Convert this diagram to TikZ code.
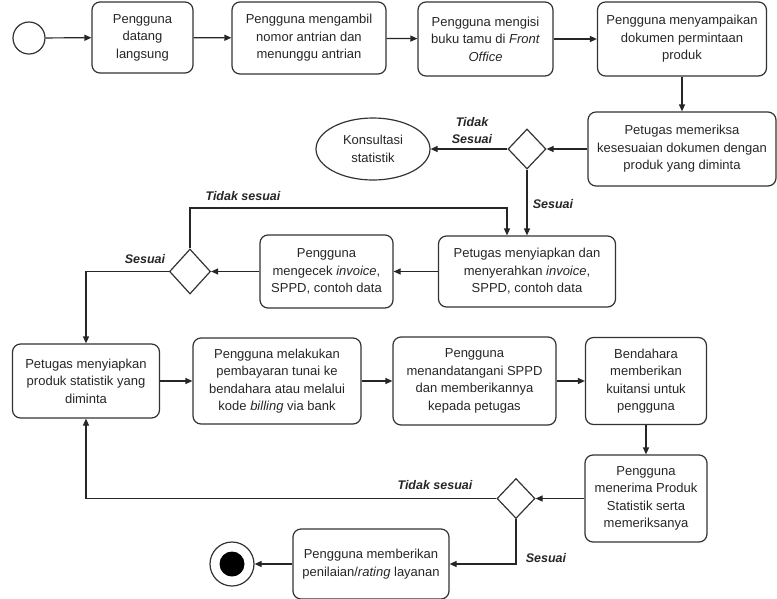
\documentclass[tikz,border=0pt]{standalone}
\usepackage{fontspec}
\setmainfont{Liberation Sans}
\usetikzlibrary{shapes.geometric,arrows.meta}

\begin{document}
\begin{tikzpicture}[x=1pt, y=-1pt,
		>={Triangle[length=7pt,width=6pt]},
		act/.style={draw=black!80, line width=1.2pt, rounded corners=8pt, align=center, inner sep=2pt, text=black!85, font=\fontsize{13}{17.5}\selectfont},
		cek/.style={draw=black!80, line width=1.2pt, diamond, inner sep=0pt, minimum width=38pt, minimum height=40pt},
		flow/.style={->, draw=black!85, line width=1.2pt},
		lbl/.style={align=center, text=black!85, font=\fontsize{12.5}{17}\selectfont\bfseries\itshape}]
		
		\useasboundingbox (0, 0) rectangle (777, 598);
		
		% start and first row
		\node[draw=black!80, line width=1.2pt, circle, minimum size=32pt] (mulai) at (29, 38) {};
		\node[act, minimum width=101pt, minimum height=71pt] (datang) at (142.5, 37.5) {Pengguna\\datang\\langsung};
		\node[act, minimum width=154pt, minimum height=72pt] (antri) at (309, 38) {Pengguna mengambil\\nomor antrian dan\\menunggu antrian};
		\node[act, minimum width=135pt, minimum height=74pt] (tamu) at (485.5, 39) {Pengguna mengisi\\buku tamu di \textit{Front}\\\textit{Office}};
		\node[act, minimum width=169pt, minimum height=74pt] (dokumen) at (682, 39) {Pengguna menyampaikan\\dokumen permintaan\\produk};
		\draw[flow] (mulai) -- (datang);
		\draw[flow] (datang) -- (antri);
		\draw[flow] (antri) -- (tamu);
		\draw[flow] (tamu) -- (dokumen);
		
		% checking the documents
		\node[act, minimum width=188pt, minimum height=74pt] (periksa) at (682, 149) {Petugas memeriksa\\kesesuaian dokumen dengan\\produk yang diminta};
		\node[cek] (cek1) at (527, 149) {};
		\node[draw=black!80, line width=1.2pt, ellipse, minimum width=114pt, minimum height=62pt, text=black!85, align=center, font=\fontsize{13}{17.5}\selectfont] (konsul) at (373, 149) {Konsultasi\\statistik};
		\node[lbl] (tdk1) at (472, 131) {Tidak\\Sesuai};
		\node[lbl] (ya1) at (553, 204) {Sesuai};
		\draw[flow] (dokumen) -- (periksa);
		\draw[flow] (periksa) -- (cek1);
		\draw[flow] (cek1) -- (konsul);
		
		% invoice
		\node[act, minimum width=177pt, minimum height=71pt] (siap) at (527, 271.5) {Petugas menyiapkan dan\\menyerahkan \textit{invoice},\\SPPD, contoh data};
		\node[act, minimum width=133pt, minimum height=73pt] (cekinv) at (326.5, 271.5) {Pengguna\\mengecek \textit{invoice},\\SPPD, contoh data};
		\node[cek, minimum width=41pt, minimum height=45pt] (cek2) at (190, 271.5) {};
		\coordinate (balik) at (507, 208);
		\node[lbl] (tdk2) at (243, 196) {Tidak sesuai};
		\node[lbl] (ya2) at (145, 259) {Sesuai};
		\draw[flow] (cek1) -- (siap);
		\draw[flow] (siap) -- (cekinv);
		\draw[flow] (cekinv) -- (cek2);
		\draw[flow] (cek2.north) |- (balik) -- (balik |- siap.north);
		
		% payment row
		\node[act, minimum width=147pt, minimum height=74pt] (produk) at (86, 381) {Petugas menyiapkan\\produk statistik yang\\diminta};
		\node[act, minimum width=168pt, minimum height=86pt] (bayar) at (277, 381) {Pengguna melakukan\\pembayaran tunai ke\\bendahara atau melalui\\kode \textit{billing} via bank};
		\node[act, minimum width=163pt, minimum height=88pt] (ttd) at (474.5, 381) {Pengguna\\menandatangani SPPD\\dan memberikannya\\kepada petugas};
		\node[act, minimum width=121pt, minimum height=87pt] (kuitansi) at (646, 381) {Bendahara\\memberikan\\kuitansi untuk\\pengguna};
		\draw[flow] (cek2.west) -| (produk.north);
		\draw[flow] (produk) -- (bayar);
		\draw[flow] (bayar) -- (ttd);
		\draw[flow] (ttd) -- (kuitansi);
		
		% receiving the product
		\node[act, minimum width=122pt, minimum height=87pt] (terima) at (646, 498.5) {Pengguna\\menerima Produk\\Statistik serta\\memeriksanya};
		\node[cek] (cek3) at (516, 498.5) {};
		\node[lbl] (tdk3) at (435, 485) {Tidak sesuai};
		\node[lbl] (ya3) at (546, 558) {Sesuai};
		\draw[flow] (kuitansi) -- (terima);
		\draw[flow] (terima) -- (cek3);
		\draw[flow] (cek3.west) -| (produk.south);
		
		% rating and end
		\node[act, minimum width=156pt, minimum height=70pt] (nilai) at (371, 564) {Pengguna memberikan\\penilaian/\textit{rating} layanan};
		\node[draw=black!80, line width=1.2pt, circle, minimum size=44pt] (selesai) at (232, 564) {};
		\node[fill=black, circle, minimum size=25pt] (selesaiIsi) at (selesai) {};
		\draw[flow] (cek3.south) |- (nilai.east);
		\draw[flow] (nilai) -- (selesai);
		
	\end{tikzpicture}
\end{document}
